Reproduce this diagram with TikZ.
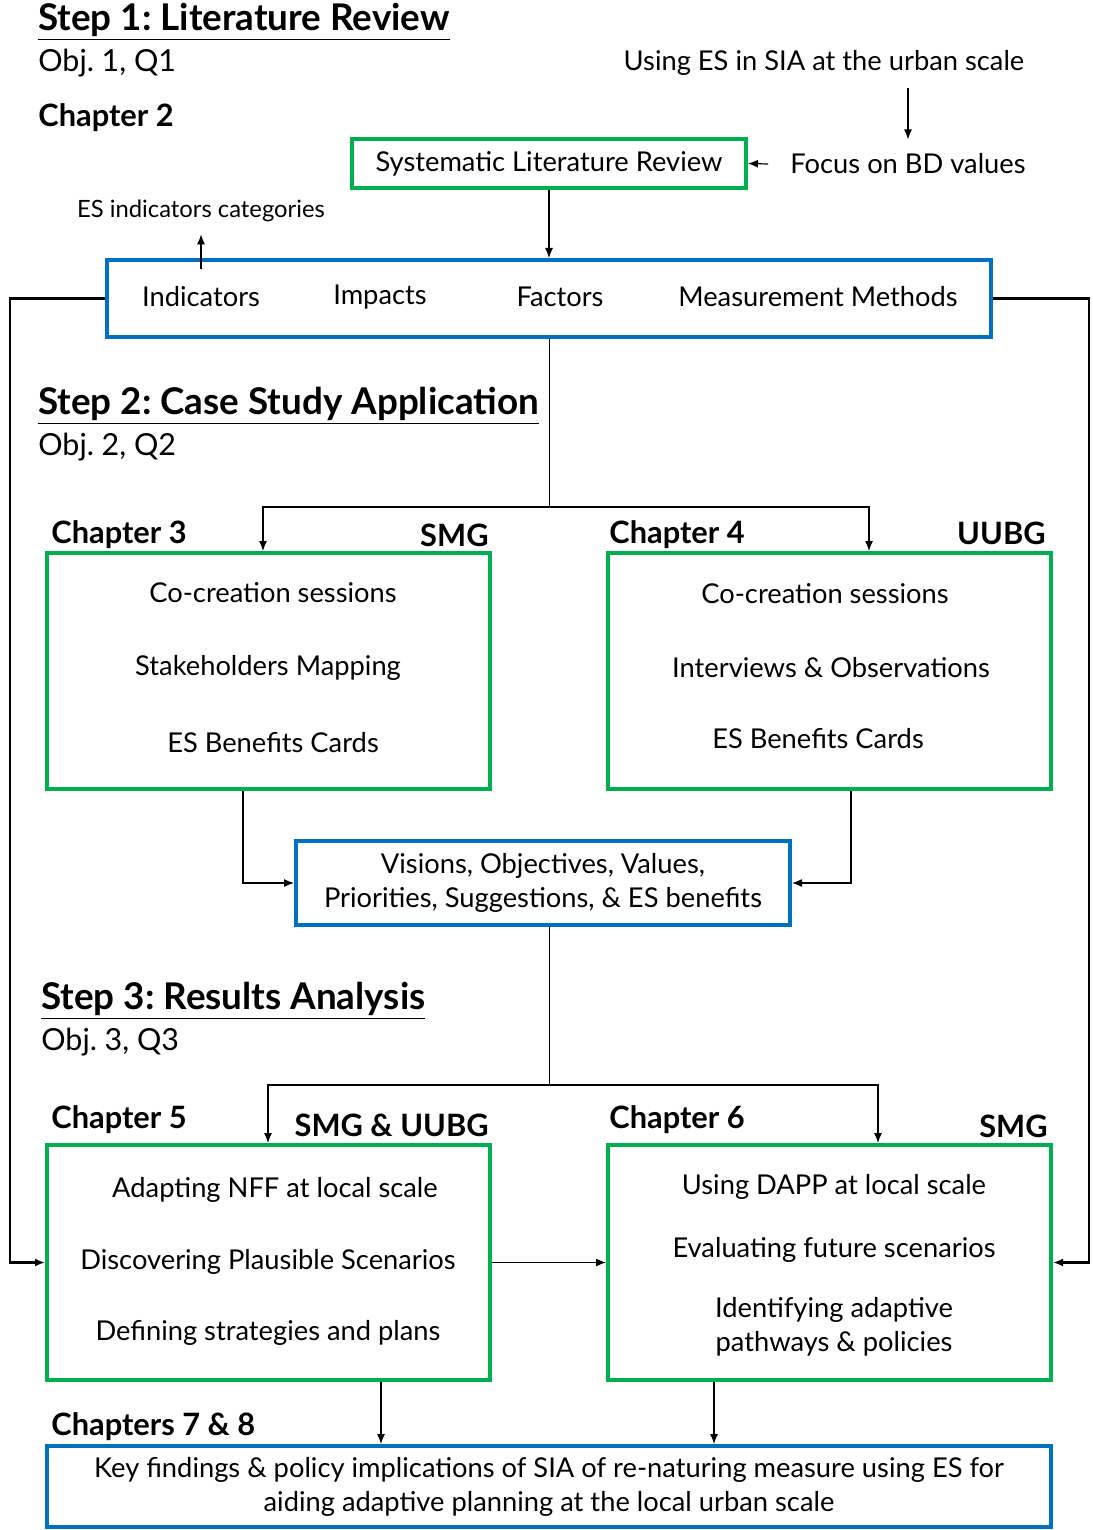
\documentclass[tikz,border=0pt]{standalone}
\usepackage{fontspec}
\setmainfont{Lato}
\usetikzlibrary{calc,arrows.meta}
\definecolor{boxgreen}{RGB}{0,176,80}
\definecolor{boxblue}{RGB}{0,112,192}
\frenchspacing

\begin{document}
\begin{tikzpicture}[x=0.5pt,y=-0.5pt]
        \tikzstyle{every node}=[inner sep=0pt, font=\fontsize{13.65}{17}\selectfont]
        \tikzstyle{greenbox}=[draw=boxgreen, line width=2pt]
        \tikzstyle{bluebox}=[draw=boxblue, line width=2pt, align=center]
        \tikzstyle{stephead}=[anchor=west, font=\fontsize{18.4}{21}\selectfont\bfseries]
        \tikzstyle{objline}=[anchor=west, font=\fontsize{15.2}{18}\selectfont]
        \tikzstyle{chaphead}=[font=\fontsize{15.4}{18}\selectfont\bfseries]
        \tikzstyle{arr}=[-{Latex[length=5pt,width=4pt]}, line width=0.6pt]
        \tikzstyle{sidearr}=[-{Latex[length=5pt,width=4pt]}, line width=1.2pt]
        \useasboundingbox (0,0) rectangle (1092,1530);
        % Step 1
        \node[stephead] (step1) at (38,22) {\underline{Step 1: Literature Review}};
        \node[objline] (obj1) at (38,63) {Obj. 1, Q1};
        \node[chaphead, anchor=west] (chap2) at (38,118) {Chapter 2};
        \node (using) at (824,63) {Using ES in SIA at the urban scale};
        \node (focus) at (908,164) {Focus on BD values};
        \node[greenbox, minimum width=197pt, minimum height=24.5pt] (slr) at (549,163.5) {Systematic Literature Review};
        \node[font=\fontsize{11.9}{14}\selectfont] (escat) at (201,211) {ES indicators categories};
        \node[bluebox, minimum width=442pt, minimum height=38.5pt] (cats) at (549,298.5) {};
        \node (indic) at (201,297) {Indicators};
        \node (impac) at (380,297) {Impacts};
        \node (facto) at (560,297) {Factors};
        \node (measu) at (818,297) {Measurement Methods};
        \draw[arr] ($(focus |- using.south)+(0,12)$) -- ($(focus.north)+(0,-14)$);
        \draw[arr] ($(focus.west)+(-22,0)$) -- (slr.east);
        \draw[arr] (slr.south) -- (cats.north);
        \draw[arr] ($(indic.north)+(0,-17)$) -- ($(escat.south)+(0,12)$);
        % Step 2
        \node[stephead] (step2) at (38,406) {\underline{Step 2: Case Study Application}};
        \node[objline] (obj2) at (38,447) {Obj. 2, Q2};
        \node[chaphead, anchor=west] (chap3) at (51,535) {Chapter 3};
        \node[chaphead, anchor=east] (smg3) at (489,535) {SMG};
        \node[chaphead, anchor=west] (chap4) at (609,535) {Chapter 4};
        \node[chaphead, anchor=east] (uubg4) at (1046,533) {UUBG};
        \node[greenbox, minimum width=221.5pt, minimum height=118pt] (ch3) at (268.5,671) {};
        \node (cocr3) at (273,593) {Co-creation sessions};
        \node (stake) at (268,668) {Stakeholders Mapping};
        \node (card3) at (273,743) {ES Benefits Cards};
        \node[greenbox, minimum width=221.5pt, minimum height=118pt] (ch4) at (829.5,671) {};
        \node (cocr4) at (825,594) {Co-creation sessions};
        \node (inter) at (831,668) {Interviews \& Observations};
        \node (card4) at (818,739) {ES Benefits Cards};
        \node[bluebox, minimum width=247pt, minimum height=42pt] (vis) at (543,883) {Visions, Objectives, Values,\\Priorities, Suggestions, \& ES benefits};
        \coordinate (split1) at (549,507);
        \draw (cats.south) -- (split1);
        \draw[arr] (split1) -| ($(ch3.north)+(-5.5,0)$);
        \draw[arr] (split1) -| ($(ch4.north)+(39.5,0)$);
        \draw[arr] ($(ch3.south)+(-25.5,0)$) |- (vis.west);
        \draw[arr] ($(ch4.south)+(21.5,0)$) |- (vis.east);
        % Step 3
        \node[stephead] (step3) at (41,1001) {\underline{Step 3: Results Analysis}};
        \node[objline] (obj3) at (41,1042) {Obj. 3, Q3};
        \node[chaphead, anchor=west] (chap5) at (51,1120) {Chapter 5};
        \node[chaphead, anchor=east] (smguubg) at (489,1125) {SMG \& UUBG};
        \node[chaphead, anchor=west] (chap6) at (609,1120) {Chapter 6};
        \node[chaphead, anchor=east] (smg6) at (1048,1126) {SMG};
        \node[greenbox, minimum width=221.5pt, minimum height=117.5pt] (ch5) at (268.5,1262.5) {};
        \node (adapt) at (275,1190) {Adapting NFF at local scale};
        \node (disco) at (268,1262) {Discovering Plausible Scenarios};
        \node (defin) at (268,1333) {Defining strategies and plans};
        \node[greenbox, minimum width=221.5pt, minimum height=117.5pt] (ch6) at (829.5,1262.5) {};
        \node (dapp) at (834,1187) {Using DAPP at local scale};
        \node (evalu) at (834,1250) {Evaluating future scenarios};
        \node[align=center] (ident) at (834,1327) {Identifying adaptive\\pathways \& policies};
        \coordinate (split2) at (549,1085);
        \draw ($(vis.south)+(6,0)$) -- (split2);
        \draw[arr] (split2) -| ($(ch5.north)+(-0.5,0)$);
        \draw[arr] (split2) -| ($(ch6.north)+(48.5,0)$);
        \draw[arr] (ch5.east) -- (ch6.west);
        % Side loops
        \draw[sidearr] (cats.west) -- ++(-95,0) |- (ch5.west);
        \draw[sidearr] (cats.east) -- ++(96,0) |- (ch6.east);
        % Chapters 7 and 8
        \node[chaphead, anchor=west] (chap78) at (51,1427) {Chapters 7 \& 8};
        \node[bluebox, minimum width=502pt, minimum height=40.5pt] (final) at (549,1486.5) {Key findings \& policy implications of SIA of re-naturing measure using ES for\\aiding adaptive planning at the local urban scale};
        \draw[arr] ($(ch5.south)+(112.5,0)$) coordinate (c5) -- (c5 |- final.north);
        \draw[arr] ($(ch6.south)+(-115.5,0)$) coordinate (c6) -- (c6 |- final.north);
    \end{tikzpicture}
\end{document}
